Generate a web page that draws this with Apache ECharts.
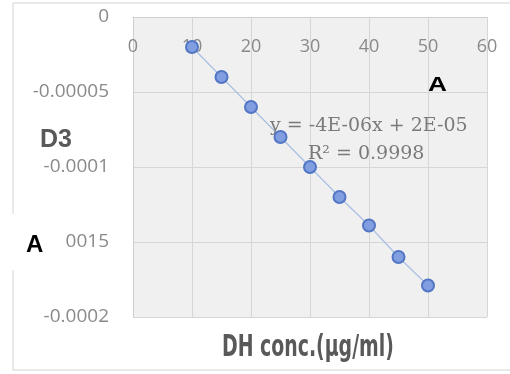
<!DOCTYPE html>
<html><head><meta charset="utf-8">
<script src="https://cdn.jsdelivr.net/npm/echarts@6/dist/echarts.min.js"></script>
<style>html,body{margin:0;padding:0;background:#fff}#c{width:510px;height:374px}</style>
</head><body><div id="c"></div>
<script>
var concentrations = [10, 15, 20, 25, 30, 35, 40, 45, 50];
var d3Values = [-0.00002, -0.00004, -0.00006, -0.00008, -0.0001, -0.00012, -0.000139, -0.00016, -0.000179];
var xTickLabels = ['0', '10', '20', '30', '40', '50', '60'];
var yTickLabels = ['0', '-0.00005', '-0.0001', '-0.00015', '-0.0002'];
var equationText = 'y = -4E-06x + 2E-05';
var r2Text = 'R\u00b2 = 0.9998';

var chart = echarts.init(document.getElementById('c'), null, {renderer: 'canvas'});
var pts = concentrations.map(function (x, i) { return [x, d3Values[i]]; });
chart.setOption({
  animation: false,
  backgroundColor: '#fff',
  grid: {left: 133, top: 17, right: 23, bottom: 57, show: true, backgroundColor: '#f0f0f0', borderWidth: 0},
  xAxis: {
    type: 'value', position: 'top', min: 0, max: 60, interval: 10,
    axisLine: {show: true, onZero: false, lineStyle: {color: '#cfcfcf'}},
    axisTick: {show: false},
    axisLabel: {inside: true, margin: 21, color: '#8a8a8a', fontFamily: 'Open Sans', fontSize: 18,
      formatter: function (v) { return xTickLabels[Math.round(v / 10)]; }},
    splitLine: {lineStyle: {color: '#d6d6d6'}}
  },
  yAxis: {
    type: 'value', min: -0.0002, max: 0, interval: 0.00005,
    axisLine: {show: true, lineStyle: {color: '#cfcfcf'}},
    axisTick: {show: false},
    axisLabel: {margin: 24, color: '#8a8a8a', fontFamily: 'Open Sans', fontSize: 19,
      formatter: function (v) { return yTickLabels[Math.round(-v / 0.00005)]; }},
    splitLine: {lineStyle: {color: '#d6d6d6'}}
  },
  series: [{
    type: 'line', data: pts, symbol: 'circle', symbolSize: 12,
    lineStyle: {color: '#a9bfe3', width: 1.2},
    itemStyle: {color: '#819fe0', borderColor: '#5275c4', borderWidth: 2}
  }],
  graphic: [
    {type: 'rect', shape: {x: 13, y: 3, width: 510, height: 367}, style: {fill: 'none', stroke: '#d4d4d4', lineWidth: 1}, z: -1},
    {type: 'text', x: 40, y: 140, style: {text: 'D3', font: 'bold 25px "Liberation Sans"', fill: '#595959', verticalAlign: 'middle'}},
    {type: 'text', x: 270, y: 126, z: 5, style: {text: equationText, font: '19px "DejaVu Serif"', fill: '#7a7a7a', verticalAlign: 'middle'}},
    {type: 'text', x: 308, y: 154, z: 5, style: {text: r2Text, font: '19px "DejaVu Serif"', fill: '#7a7a7a', verticalAlign: 'middle'}},
    {type: 'text', x: 222, y: 348, scaleX: 0.7, style: {text: 'DH conc.(\u00b5g/ml)', font: 'bold 30px "DejaVu Sans Condensed"', fill: '#595959', verticalAlign: 'middle'}},
    {type: 'text', x: 428, y: 85, scaleX: 1.25, style: {text: 'A', font: 'bold 21px "Liberation Sans"', fill: '#000', verticalAlign: 'middle'}},
    {type: 'rect', shape: {x: 8, y: 214, width: 58, height: 56}, style: {fill: '#fff'}, z: 10},
    {type: 'text', x: 26, y: 245, z: 11, style: {text: 'A', font: 'bold 24px "Liberation Sans"', fill: '#000', verticalAlign: 'middle'}}
  ]
});
</script></body></html>
